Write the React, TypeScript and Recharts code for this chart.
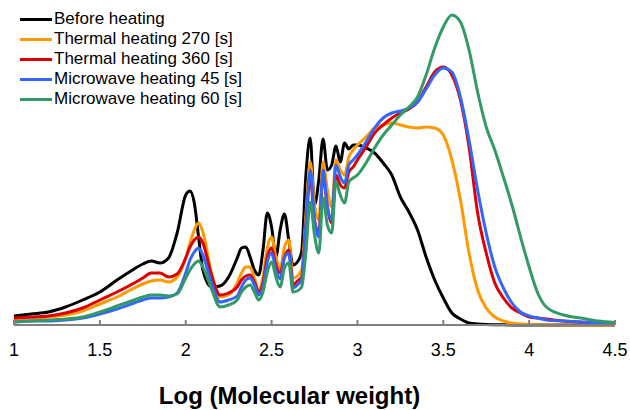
import React from 'react';
import { LineChart, Line, XAxis, YAxis, Legend } from 'recharts';

// log(MW) sample positions
const logMW = [
  1.0, 1.1, 1.2, 1.3, 1.4, 1.5, 1.6, 1.7, 1.75, 1.8, 1.85, 1.9, 1.95,
  2.0, 2.025, 2.05, 2.075, 2.1, 2.15, 2.2, 2.25, 2.3, 2.325, 2.35, 2.375,
  2.4, 2.425, 2.45, 2.475, 2.5, 2.525, 2.55, 2.575, 2.6, 2.625, 2.65, 2.675,
  2.7, 2.725, 2.75, 2.775, 2.8, 2.825, 2.85, 2.875, 2.9, 2.925, 2.95, 2.975,
  3.0, 3.05, 3.1, 3.15, 3.2, 3.25, 3.3, 3.35, 3.4, 3.45, 3.5, 3.55, 3.6, 3.65,
  3.7, 3.75, 3.8, 3.85, 3.9, 3.95, 4.0, 4.05, 4.1, 4.2, 4.3, 4.4, 4.5,
];

const beforeHeating = [
  9, 11, 13, 18, 25, 33, 45, 56, 61, 64, 62, 67, 92,
  130, 134, 122, 88, 55, 38, 39, 48, 67, 77, 78, 68,
  55, 50, 75, 112, 98, 68, 95, 111, 85, 60, 63, 73,
  150, 187, 120, 145, 186, 155, 160, 179, 163, 182, 176, 180,
  180, 177, 172, 162, 150, 128, 113, 95, 68, 45, 27, 12, 6, 2,
  1, 0.5, 0.3, 0.2, 0.1, 0, 0, 0, 0, 0, 0, 0, 0,
];

const thermal270 = [
  6, 7, 8, 10, 14, 21, 28, 37, 41, 44, 45, 43, 48,
  67, 82, 95, 102, 93, 52, 28, 30, 42, 52, 58, 58,
  47, 35, 48, 77, 88, 68, 56, 78, 85, 47, 49, 55,
  110, 163, 120, 105, 163, 135, 118, 165, 155, 150, 168, 175,
  180, 188, 197, 200, 202, 200, 198, 197, 198, 197, 190, 165, 125, 72,
  35, 17, 8, 4, 2, 1, 0.5, 0.3, 0.2, 0.1, 0, 0, 0,
];

const thermal360 = [
  7, 8, 9, 12, 17, 25, 33, 42, 47, 52, 52, 48, 51,
  67, 78, 85, 88, 82, 50, 30, 32, 38, 45, 49, 50,
  43, 33, 42, 68, 77, 60, 52, 68, 75, 40, 44, 48,
  100, 148, 105, 92, 150, 118, 102, 150, 140, 137, 153, 158,
  165, 178, 192, 200, 207, 212, 216, 223, 238, 253, 258, 250, 225, 178,
  112, 72, 42, 27, 17, 12, 8, 7, 6, 4, 3, 2, 1.5,
];

const microwave45 = [
  3, 4, 4, 5, 7, 11, 16, 22, 25, 27, 27, 28, 32,
  52, 65, 73, 77, 70, 42, 23, 25, 29, 38, 45, 47,
  40, 30, 38, 63, 72, 55, 46, 67, 72, 37, 40, 45,
  100, 155, 105, 88, 155, 118, 105, 160, 148, 142, 160, 165,
  170, 183, 197, 207, 212, 214, 217, 223, 236, 250, 257, 253, 228, 185,
  135, 92, 58, 37, 22, 13, 9, 7, 5, 4, 3, 2, 1.5,
];

const microwave60 = [
  3, 4, 5, 6, 8, 13, 19, 25, 28, 30, 30, 29, 31,
  47, 55, 61, 64, 58, 36, 18, 20, 25, 33, 38, 40,
  33, 25, 33, 53, 63, 48, 38, 57, 62, 33, 34, 38,
  73, 123, 90, 72, 127, 100, 92, 143, 130, 122, 143, 147,
  150, 162, 177, 190, 200, 210, 218, 228, 250, 277, 298, 310, 303, 275,
  233, 198, 175, 148, 120, 88, 58, 32, 18, 10, 7, 4, 2.5,
];

const xTicks = [1, 1.5, 2, 2.5, 3, 3.5, 4, 4.5];

const series = [
  { key: 'before', name: 'Before heating', color: '#000000', values: beforeHeating },
  { key: 't270', name: 'Thermal heating 270 [s]', color: '#FF9900', values: thermal270 },
  { key: 't360', name: 'Thermal heating 360 [s]', color: '#E00000', values: thermal360 },
  { key: 'm45', name: 'Microwave heating 45 [s]', color: '#3366FF', values: microwave45 },
  { key: 'm60', name: 'Microwave heating 60 [s]', color: '#339966', values: microwave60 },
];

const data = logMW.map((x, i) => {
  const row: Record<string, number> = { x };
  series.forEach((s) => { row[s.key] = s.values[i]; });
  return row;
});

const FONT = '"Liberation Sans", Arial, sans-serif';

// legend: short line + label, stacked
const renderLegend = () => (
  <div style={{ fontFamily: FONT, fontSize: 17, color: '#000' }}>
    {series.map((s) => (
      <div key={s.key} style={{ display: 'flex', alignItems: 'center', height: 20 }}>
        <div style={{ width: 32, height: 3, background: s.color, marginRight: 2 }} />
        <span style={{ lineHeight: '20px', whiteSpace: 'nowrap' }}>{s.name}</span>
      </div>
    ))}
  </div>
);

export default function App() {
  return (
    <div style={{ position: 'absolute', left: 0, top: 0, width: 630, height: 410, background: '#fff' }}>
      <LineChart width={630} height={410} data={data} margin={{ top: 15, right: 15, bottom: 0, left: 14 }}>
        <XAxis
          dataKey="x"
          type="number"
          domain={[1, 4.5]}
          ticks={xTicks}
          height={85}
          stroke="#808080"
          strokeWidth={2}
          tickSize={-5}
          tickMargin={23}
          tick={{ fill: '#000', fontSize: 18, fontFamily: FONT }}
          label={{
            value: 'Log (Molecular weight)',
            position: 'insideBottom',
            offset: 6,
            dx: -25,
            style: { fill: '#000', fontSize: 24, fontWeight: 'bold', fontFamily: FONT },
          }}
        />
        <YAxis hide domain={[0, 310]} />
        <Legend
          layout="vertical"
          align="center"
          verticalAlign="middle"
          content={renderLegend}
          wrapperStyle={{ top: 9, left: 20, width: 'auto' }}
        />
        {series.map((s) => (
          <Line
            key={s.key}
            type="monotone"
            dataKey={s.key}
            name={s.name}
            stroke={s.color}
            strokeWidth={3}
            dot={false}
            isAnimationActive={false}
          />
        ))}
      </LineChart>
    </div>
  );
}
